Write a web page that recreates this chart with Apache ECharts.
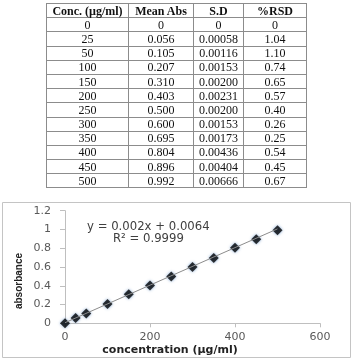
<!DOCTYPE html>
<html>
<head>
<meta charset="utf-8">
<script src="https://cdn.jsdelivr.net/npm/echarts@6/dist/echarts.min.js"></script>
<style>
html,body{margin:0;padding:0;background:#fff;}
#chart{position:absolute;left:0;top:0;width:355px;height:360px;}
#tbl{position:absolute;left:46px;top:3px;width:260px;border-collapse:collapse;table-layout:fixed;
  font-family:"Liberation Serif","Times New Roman",serif;font-size:12px;color:#111;z-index:2;}
#tbl td,#tbl th{border:1px solid #8c8c8c;padding:0;text-align:center;line-height:12px;}
#tbl tr{height:14.2px;}
#tbl th{font-weight:bold;}
</style>
</head>
<body>
<div id="chart"></div>
<table id="tbl"><colgroup><col style="width:82px"><col style="width:65px"><col style="width:50px"><col style="width:63px"></colgroup><thead></thead><tbody></tbody></table>
<script>
// ---- data ----
var headers = ["Conc. (\u00b5g/ml)", "Mean Abs", "S.D", "%RSD"];
var concLabels = ["0","25","50","100","150","200","250","300","350","400","450","500"];
var meanAbsLabels = ["0","0.056","0.105","0.207","0.310","0.403","0.500","0.600","0.695","0.804","0.896","0.992"];
var sdLabels = ["0","0.00058","0.00116","0.00153","0.00200","0.00231","0.00200","0.00153","0.00173","0.00436","0.00404","0.00666"];
var rsdLabels = ["0","1.04","1.10","0.74","0.65","0.57","0.40","0.26","0.25","0.54","0.45","0.67"];
var conc = [0,25,50,100,150,200,250,300,350,400,450,500];
var absorbance = [0,0.056,0.105,0.207,0.310,0.403,0.500,0.600,0.695,0.804,0.896,0.992];
var trendX = [0, 500];
var trendY = [0.0064, 1.0064];
var equationText = "y = 0.002x + 0.0064";
var r2Text = "R\u00b2 = 0.9999";
var xTitle = "concentration (\u00b5g/ml)";
var yTitle = "absorbance";

// ---- table ----
var thead = document.querySelector('#tbl thead');
var trh = document.createElement('tr');
headers.forEach(function(h){var th=document.createElement('th');th.textContent=h;trh.appendChild(th);});
thead.appendChild(trh);
var tbody = document.querySelector('#tbl tbody');
for (var i=0;i<concLabels.length;i++){
  var tr=document.createElement('tr');
  [concLabels[i],meanAbsLabels[i],sdLabels[i],rsdLabels[i]].forEach(function(v){var td=document.createElement('td');td.textContent=v;tr.appendChild(td);});
  tbody.appendChild(tr);
}

// ---- chart ----
var chart = echarts.init(document.getElementById('chart'), null, {renderer:'canvas'});
var axisColor = '#bfbfbf';
var labelColor = '#595959';
var font = 'DejaVu Sans';
chart.setOption({
  animation:false,
  backgroundColor:'#fff',
  grid:{left:65, right:35, top:210.7, bottom:36.7},
  xAxis:{type:'value', min:0, max:600, interval:200,
    axisLine:{show:true,onZero:false,lineStyle:{color:axisColor,width:1}},
    axisTick:{show:true,length:4,lineStyle:{color:axisColor}},
    splitLine:{show:false},
    axisLabel:{color:labelColor,fontFamily:font,fontSize:11,margin:8}},
  yAxis:{type:'value', min:0, max:1.2, interval:0.2,
    axisLine:{show:true,lineStyle:{color:axisColor,width:1}},
    axisTick:{show:true,length:5,lineStyle:{color:axisColor}},
    splitLine:{show:false},
    axisLabel:{color:labelColor,fontFamily:font,fontSize:11,margin:14}},
  graphic:[
    {type:'rect', z:-1, shape:{x:2.5,y:202.5,width:348,height:155}, style:{fill:'none',stroke:'#c4c4c4',lineWidth:1}},
    {type:'text', x:87, y:227, style:{text:equationText, fill:'#404040', fontFamily:font, fontSize:11.7, textVerticalAlign:'middle'}},
    {type:'text', x:113, y:238.5, style:{text:r2Text, fill:'#404040', fontFamily:font, fontSize:11.7, textVerticalAlign:'middle'}},
    {type:'text', x:170, y:350.5, style:{text:xTitle, fill:'#222', fontFamily:font, fontWeight:'bold', fontSize:11, textAlign:'center', textVerticalAlign:'middle'}},
    {type:'text', x:19, y:281, rotation:Math.PI/2, style:{text:yTitle, fill:'#222', fontFamily:'Liberation Sans', fontWeight:'bold', fontSize:10, textAlign:'center', textVerticalAlign:'middle'}}
  ],
  series:[
    {type:'scatter', data:conc.map(function(c,i){return [c,absorbance[i]];}),
      symbol:'diamond', symbolSize:10,
      itemStyle:{color:'#050505', shadowColor:'rgba(79,129,189,0.9)', shadowBlur:3}, z:2},
    {type:'line', data:trendX.map(function(x,i){return [x,trendY[i]];}),
      symbol:'none', lineStyle:{color:'#8c8c8c',width:1}, z:3}
  ]
});
</script>
</body>
</html>
